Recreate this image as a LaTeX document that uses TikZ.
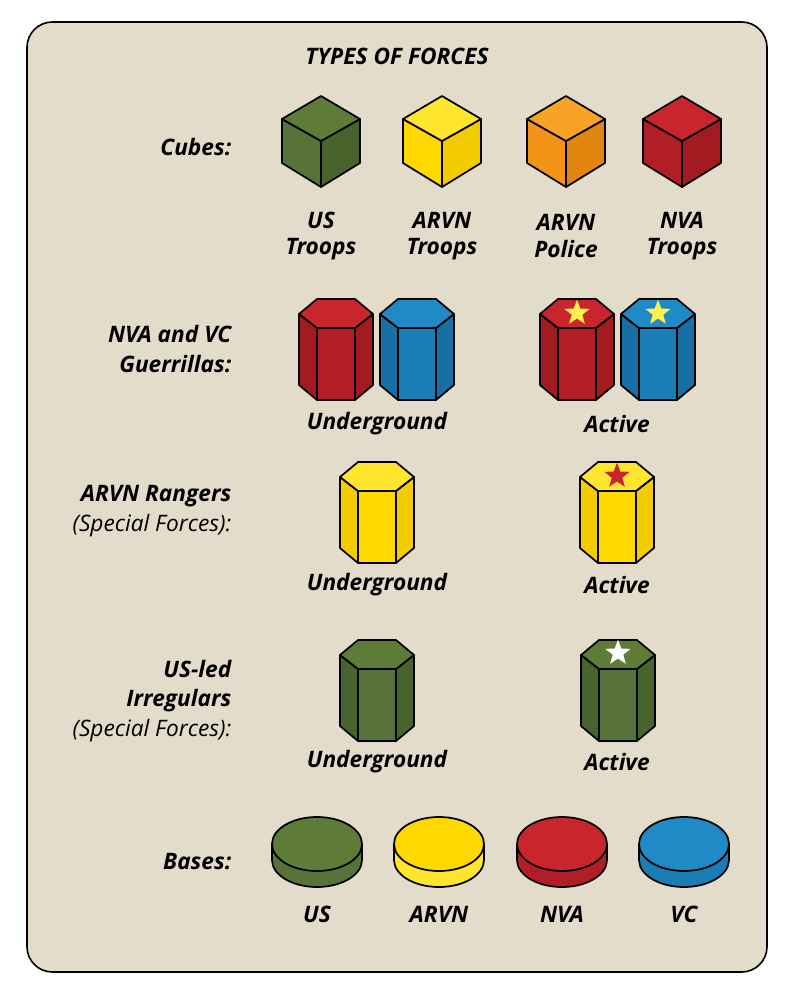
\documentclass[tikz,border=0pt]{standalone}
\usepackage{fontspec}
\setmainfont{Open Sans}
\usetikzlibrary{shapes.geometric}
\definecolor{bg}{HTML}{E3DCCB}
\definecolor{gT}{HTML}{5F7B38}\definecolor{gL}{HTML}{57733A}\definecolor{gR}{HTML}{48632C}
\definecolor{yT}{HTML}{FFE52E}\definecolor{yL}{HTML}{FFD800}\definecolor{yR}{HTML}{F2CC00}
\definecolor{oT}{HTML}{F8A326}\definecolor{oL}{HTML}{F39419}\definecolor{oR}{HTML}{E2850F}
\definecolor{rT}{HTML}{C9252C}\definecolor{rL}{HTML}{B21E25}\definecolor{rR}{HTML}{A21B21}
\definecolor{bT}{HTML}{1F8AC6}\definecolor{bL}{HTML}{1B7DB6}\definecolor{bR}{HTML}{176FA4}
\definecolor{starY}{HTML}{FFF04A}
\tikzset{
  piece/.style={draw=black!85!black,line width=1.3pt,line join=round},
  lbl/.style={font=\fontsize{17}{20}\selectfont\bfseries\itshape,align=center},
  rlbl/.style={font=\fontsize{17}{22}\selectfont\bfseries\itshape,align=right,anchor=east},
  pstar/.style={star,star points=5,star point ratio=2.4,minimum size=20pt,inner sep=0pt}
}
\newcommand\mycube[4]{% cx, top, left, right
  \filldraw[piece,fill=#3] (#1-39,119)--(#1,141)--(#1,187)--(#1-39,163)--cycle;
  \filldraw[piece,fill=#4] (#1+39,119)--(#1,141)--(#1,187)--(#1+39,163)--cycle;
  \filldraw[piece,fill=#2] (#1,96)--(#1+39,119)--(#1,141)--(#1-39,119)--cycle;}
\newcommand\myhex[5]{% cx, y0, top, side, front
  \filldraw[piece,fill=#4] (#1-37,#2+15)--(#1-19,#2+29)--(#1-19,#2+101)--(#1-37,#2+86)--cycle;
  \filldraw[piece,fill=#4] (#1+37,#2+15)--(#1+19,#2+29)--(#1+19,#2+101)--(#1+37,#2+86)--cycle;
  \filldraw[piece,fill=#5] (#1-19,#2+29)--(#1+19,#2+29)--(#1+19,#2+101)--(#1-19,#2+101)--cycle;
  \filldraw[piece,fill=#3] (#1-19,#2)--(#1+19,#2)--(#1+37,#2+15)--(#1+19,#2+29)--(#1-19,#2+29)--(#1-37,#2+15)--cycle;}
\newcommand\mybase[3]{% cx, top, side
  \filldraw[piece,fill=#3] (#1-45,844)--(#1-45,860) arc[start angle=180,end angle=360,x radius=33.75pt,y radius=20.25pt]--(#1+45,844)--cycle;
  \filldraw[piece,fill=#2] (#1,844) ellipse[x radius=33.75pt,y radius=20.25pt];}
\begin{document}
\begin{tikzpicture}[x=0.75pt,y=-0.75pt]
\useasboundingbox (0,0) rectangle (800,993);
\filldraw[fill=bg,draw=black,line width=1.2pt,rounded corners=19pt] (27,22) rectangle (767,972);
\node[lbl] (title) at (397,56) {TYPES OF FORCES};
% cubes
\node[rlbl] (cubes) at (236,147) {Cubes:};
\mycube{321}{gT}{gL}{gR}
\mycube{442}{yT}{yL}{yR}
\mycube{566}{oT}{oL}{oR}
\mycube{682}{rT}{rL}{rR}
\node[lbl] (l1) at (321,236) {US\\Troops};
\node[lbl] (l2) at (442,236) {ARVN\\Troops};
\node[lbl] (l3) at (566,236) {ARVN\\Police};
\node[lbl] (l4) at (682,236) {NVA\\Troops};
% guerrillas
\node[rlbl] (guer) at (236,349) {NVA and VC\\Guerrillas:};
\myhex{336}{299}{rT}{rR}{rL}
\myhex{417}{299}{bT}{bR}{bL}
\myhex{577}{299}{rT}{rR}{rL}
\myhex{658}{299}{bT}{bR}{bL}
\node[pstar,fill=starY] (s1) at (577,313) {};
\node[pstar,fill=starY] (s2) at (658,313) {};
\node[lbl] (u1) at (377,424) {Underground};
\node[lbl] (a1) at (617,424) {Active};
% rangers
\node[rlbl] (rang) at (236,511) {ARVN Rangers\\\mdseries(Special Forces):};
\myhex{377}{462}{yT}{yR}{yL}
\myhex{617}{462}{yT}{yR}{yL}
\node[pstar,fill=rT] (s3) at (617,476) {};
\node[lbl] (u2) at (377,585) {Underground};
\node[lbl] (a2) at (617,585) {Active};
% irregulars
\node[rlbl] (irr) at (236,701) {US-led\\Irregulars\\\mdseries(Special Forces):};
\myhex{377}{640}{gT}{gR}{gL}
\myhex{618}{640}{gT}{gR}{gL}
\node[pstar,fill=white] (s4) at (618,653) {};
\node[lbl] (u3) at (377,762) {Underground};
\node[lbl] (a3) at (617,762) {Active};
% bases
\node[rlbl] (bases) at (236,862) {Bases:};
\mybase{317}{gT}{gL}
\mybase{439}{yL}{yT}
\mybase{562}{rT}{rL}
\mybase{684}{bT}{bL}
\node[lbl] (b1) at (317,914) {US};
\node[lbl] (b2) at (439,914) {ARVN};
\node[lbl] (b3) at (562,914) {NVA};
\node[lbl] (b4) at (684,914) {VC};
\end{tikzpicture}
\end{document}
